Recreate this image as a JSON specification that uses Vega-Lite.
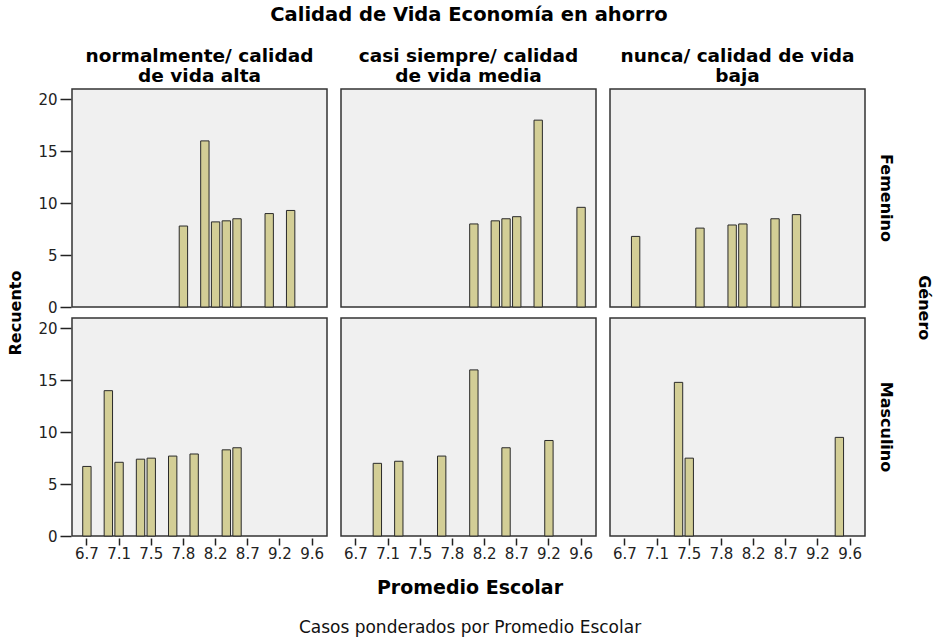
{
  "$schema": "https://vega.github.io/schema/vega-lite/v6.json",
  "background": "white",
  "padding": {"left": 7, "top": 4, "right": 4, "bottom": 4},
  "title": {
    "text": "Promedio Escolar",
    "subtitle": "Casos ponderados por Promedio Escolar",
    "orient": "bottom",
    "anchor": "middle",
    "font": "DejaVu Sans",
    "fontSize": 19,
    "fontWeight": "bold",
    "color": "#000",
    "subtitleFont": "DejaVu Sans",
    "subtitleFontSize": 17,
    "subtitleFontWeight": "normal",
    "subtitleColor": "#111",
    "subtitlePadding": 22,
    "offset": 18
  },
  "data": {
    "values": [
      {"genero": "Femenino", "calidad": "normalmente/ calidad de vida alta", "promedio": "7.8", "recuento": 7.8},
      {"genero": "Femenino", "calidad": "normalmente/ calidad de vida alta", "promedio": "8.0", "recuento": 16.0},
      {"genero": "Femenino", "calidad": "normalmente/ calidad de vida alta", "promedio": "8.2", "recuento": 8.2},
      {"genero": "Femenino", "calidad": "normalmente/ calidad de vida alta", "promedio": "8.3", "recuento": 8.3},
      {"genero": "Femenino", "calidad": "normalmente/ calidad de vida alta", "promedio": "8.5", "recuento": 8.5},
      {"genero": "Femenino", "calidad": "normalmente/ calidad de vida alta", "promedio": "9.0", "recuento": 9.0},
      {"genero": "Femenino", "calidad": "normalmente/ calidad de vida alta", "promedio": "9.3", "recuento": 9.3},
      {"genero": "Femenino", "calidad": "casi siempre/ calidad de vida media", "promedio": "8.0", "recuento": 8.0},
      {"genero": "Femenino", "calidad": "casi siempre/ calidad de vida media", "promedio": "8.3", "recuento": 8.3},
      {"genero": "Femenino", "calidad": "casi siempre/ calidad de vida media", "promedio": "8.5", "recuento": 8.5},
      {"genero": "Femenino", "calidad": "casi siempre/ calidad de vida media", "promedio": "8.7", "recuento": 8.7},
      {"genero": "Femenino", "calidad": "casi siempre/ calidad de vida media", "promedio": "9.0", "recuento": 18.0},
      {"genero": "Femenino", "calidad": "casi siempre/ calidad de vida media", "promedio": "9.6", "recuento": 9.6},
      {"genero": "Femenino", "calidad": "nunca/ calidad de vida baja", "promedio": "6.8", "recuento": 6.8},
      {"genero": "Femenino", "calidad": "nunca/ calidad de vida baja", "promedio": "7.6", "recuento": 7.6},
      {"genero": "Femenino", "calidad": "nunca/ calidad de vida baja", "promedio": "7.9", "recuento": 7.9},
      {"genero": "Femenino", "calidad": "nunca/ calidad de vida baja", "promedio": "8.0", "recuento": 8.0},
      {"genero": "Femenino", "calidad": "nunca/ calidad de vida baja", "promedio": "8.5", "recuento": 8.5},
      {"genero": "Femenino", "calidad": "nunca/ calidad de vida baja", "promedio": "8.9", "recuento": 8.9},
      {"genero": "Masculino", "calidad": "normalmente/ calidad de vida alta", "promedio": "6.7", "recuento": 6.7},
      {"genero": "Masculino", "calidad": "normalmente/ calidad de vida alta", "promedio": "7.0", "recuento": 14.0},
      {"genero": "Masculino", "calidad": "normalmente/ calidad de vida alta", "promedio": "7.1", "recuento": 7.1},
      {"genero": "Masculino", "calidad": "normalmente/ calidad de vida alta", "promedio": "7.4", "recuento": 7.4},
      {"genero": "Masculino", "calidad": "normalmente/ calidad de vida alta", "promedio": "7.5", "recuento": 7.5},
      {"genero": "Masculino", "calidad": "normalmente/ calidad de vida alta", "promedio": "7.7", "recuento": 7.7},
      {"genero": "Masculino", "calidad": "normalmente/ calidad de vida alta", "promedio": "7.9", "recuento": 7.9},
      {"genero": "Masculino", "calidad": "normalmente/ calidad de vida alta", "promedio": "8.3", "recuento": 8.3},
      {"genero": "Masculino", "calidad": "normalmente/ calidad de vida alta", "promedio": "8.5", "recuento": 8.5},
      {"genero": "Masculino", "calidad": "casi siempre/ calidad de vida media", "promedio": "7.0", "recuento": 7.0},
      {"genero": "Masculino", "calidad": "casi siempre/ calidad de vida media", "promedio": "7.2", "recuento": 7.2},
      {"genero": "Masculino", "calidad": "casi siempre/ calidad de vida media", "promedio": "7.7", "recuento": 7.7},
      {"genero": "Masculino", "calidad": "casi siempre/ calidad de vida media", "promedio": "8.0", "recuento": 16.0},
      {"genero": "Masculino", "calidad": "casi siempre/ calidad de vida media", "promedio": "8.5", "recuento": 8.5},
      {"genero": "Masculino", "calidad": "casi siempre/ calidad de vida media", "promedio": "9.2", "recuento": 9.2},
      {"genero": "Masculino", "calidad": "nunca/ calidad de vida baja", "promedio": "7.4", "recuento": 14.8},
      {"genero": "Masculino", "calidad": "nunca/ calidad de vida baja", "promedio": "7.5", "recuento": 7.5},
      {"genero": "Masculino", "calidad": "nunca/ calidad de vida baja", "promedio": "9.5", "recuento": 9.5}
    ]
  },
  "vconcat": [
    {
      "title": {
        "text": "Género",
        "orient": "right",
        "anchor": "middle",
        "angle": 90,
        "font": "DejaVu Sans",
        "fontSize": 16,
        "fontWeight": "bold",
        "color": "#000",
        "offset": 22,
        "dx": 25
      },
      "facet": {
        "row": {
          "field": "genero",
          "type": "nominal",
          "sort": ["Femenino", "Masculino"],
          "header": {
            "title": "Recuento",
            "titleOrient": "left",
            "titleAngle": -90,
            "titleFont": "DejaVu Sans",
            "titleFontSize": 16,
            "titleFontWeight": "bold",
            "titleColor": "#000",
            "titlePadding": -13,
            "labelOrient": "right",
            "labelAngle": 90,
            "labelFont": "DejaVu Sans",
            "labelFontSize": 16,
            "labelFontWeight": "bold",
            "labelColor": "#000",
            "labelPadding": 12
          }
        },
        "column": {
          "field": "calidad",
          "type": "nominal",
          "sort": ["normalmente/ calidad de vida alta", "casi siempre/ calidad de vida media", "nunca/ calidad de vida baja"],
          "header": {
            "title": "Calidad de Vida Economía en ahorro",
            "titleFont": "DejaVu Sans",
            "titleFontSize": 19.5,
            "titleFontWeight": "bold",
            "titleColor": "#000",
            "titlePadding": 11,
            "labelFont": "DejaVu Sans",
            "labelFontSize": 18.5,
            "labelFontWeight": "bold",
            "labelColor": "#000",
            "labelLineHeight": 20,
            "labelPadding": 3,
            "labelExpr": "datum.value == 'normalmente/ calidad de vida alta' ? ['normalmente/ calidad', 'de vida alta'] : datum.value == 'casi siempre/ calidad de vida media' ? ['casi siempre/ calidad', 'de vida media'] : ['nunca/ calidad de vida', 'baja']"
          }
        }
      },
      "spacing": {"row": 8, "column": 12},
      "spec": {
        "width": 255,
        "height": 218,
        "mark": {"type": "bar", "fill": "#d3ce96", "stroke": "#2a2a2a", "strokeWidth": 1},
        "encoding": {
          "x": {
            "field": "promedio",
            "type": "ordinal",
            "scale": {
              "type": "band",
              "domain": ["6.7", "6.8", "7.0", "7.1", "7.2", "7.4", "7.5", "7.6", "7.7", "7.8", "7.9", "8.0", "8.2", "8.3", "8.5", "8.7", "8.9", "9.0", "9.2", "9.3", "9.5", "9.6"],
              "paddingInner": 0.22,
              "paddingOuter": 1.33
            },
            "axis": {
              "values": ["6.7", "7.1", "7.5", "7.8", "8.2", "8.7", "9.2", "9.6"],
              "labelAngle": 0,
              "title": null
            }
          },
          "y": {
            "field": "recuento",
            "type": "quantitative",
            "scale": {"domain": [0, 21], "nice": false},
            "axis": {"values": [0, 5, 10, 15, 20], "title": null}
          }
        }
      }
    }
  ],
  "config": {
    "view": {"stroke": "#333333", "strokeWidth": 1.5, "fill": "#f0f0f0"},
    "axis": {
      "domain": false,
      "grid": false,
      "ticks": true,
      "tickColor": "#222",
      "tickWidth": 1.5,
      "labelFont": "DejaVu Sans",
      "labelFontSize": 15,
      "labelColor": "#222"
    },
    "axisX": {"tickSize": 7, "labelPadding": 1},
    "axisY": {"tickSize": 11, "labelPadding": 3}
  }
}
